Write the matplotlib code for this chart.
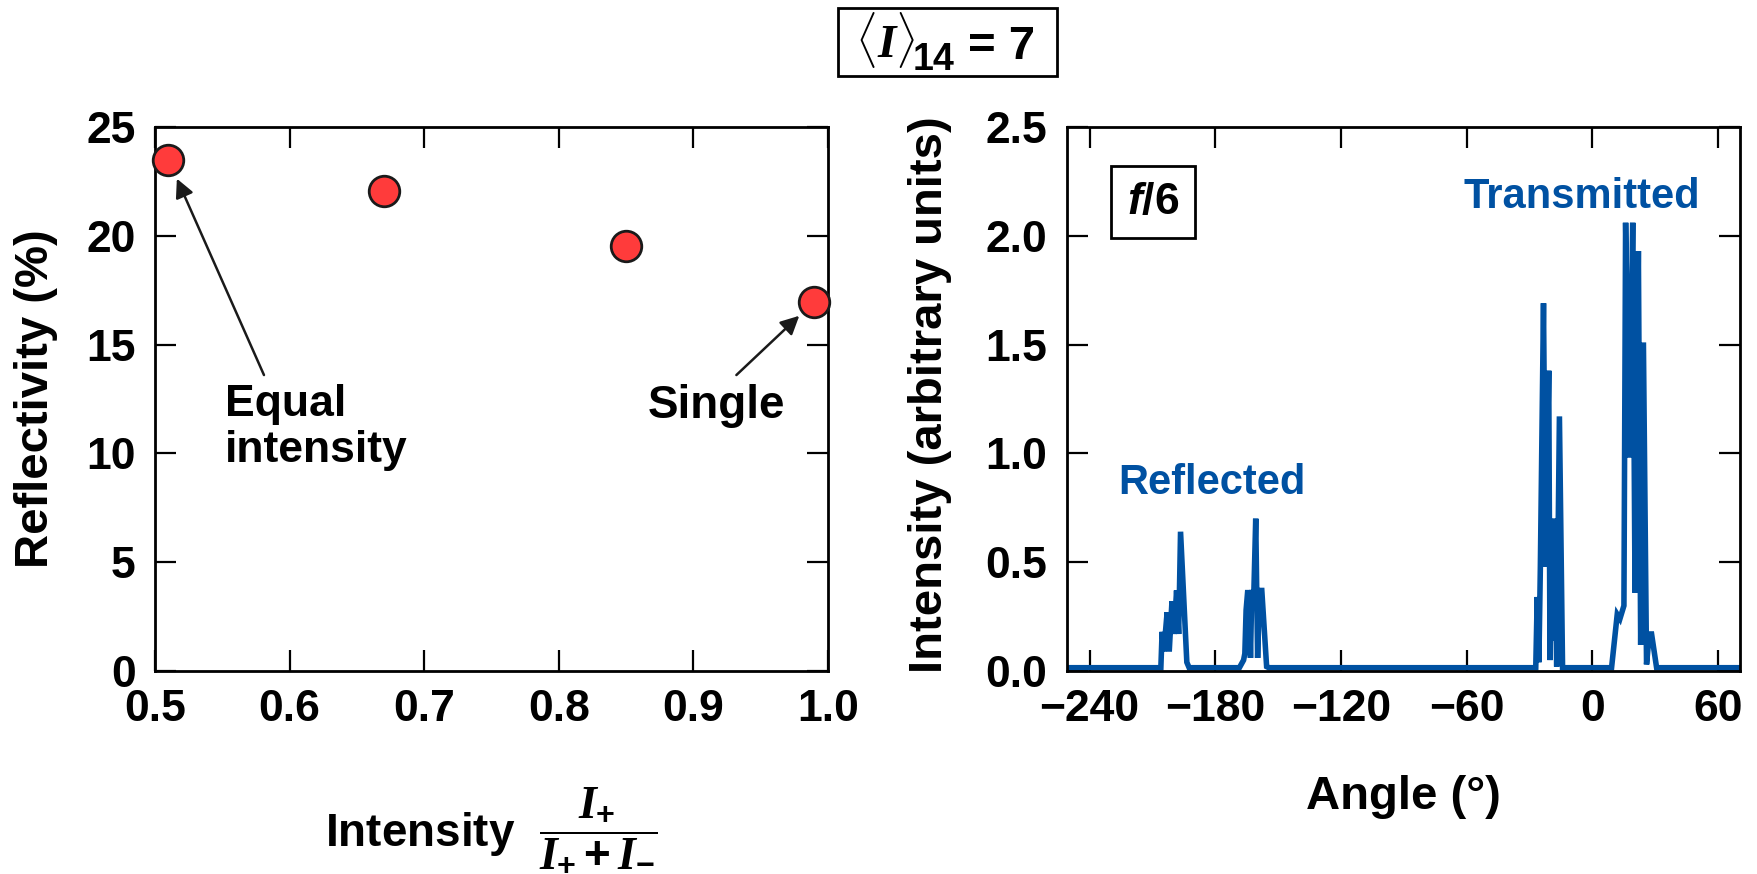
import matplotlib
matplotlib.use("Agg")
import matplotlib.pyplot as plt
from matplotlib.patches import Rectangle

plt.rcParams["font.family"] = ["Liberation Sans", "DejaVu Sans"]
plt.rcParams["font.weight"] = "bold"
plt.rcParams["mathtext.fontset"] = "custom"
plt.rcParams["mathtext.rm"] = "Liberation Sans:bold"
plt.rcParams["mathtext.bf"] = "Liberation Sans:bold"
plt.rcParams["mathtext.it"] = "Liberation Serif:bold:italic"
plt.rcParams["mathtext.sf"] = "Liberation Sans:bold:italic"

# left panel: reflectivity vs intensity ratio
ratio = [0.510, 0.670, 0.850, 0.990]
reflectivity = [23.5, 22.05, 19.55, 16.98]

# right panel: angular spectrum (f/6)
angle = [-252.0, -206.0, -205.4, -204.6, -203.0, -202.0, -200.7, -199.7,
         -198.5, -197.5, -196.6, -193.6, -192.5,
         -168.5, -166.5, -165.9, -165.3, -164.6, -163.8, -163.2, -162.6,
         -161.6, -160.7, -159.8, -158.9, -157.8, -155.5, -154.5,
         -27.0, -26.3, -25.5, -24.8, -23.3, -22.3, -20.8, -20.2, -19.4,
         -18.6, -18.1, -17.0, -15.7, -14.2,
         9.2, 11.9, 13.2, 15.1, 15.9, 17.7, 19.3, 20.4, 22.0, 23.1, 24.4,
         25.9, 27.2, 28.3, 30.7, 72.0]
intensity = [0.015, 0.015, 0.18, 0.09, 0.27, 0.09, 0.32, 0.17,
             0.37, 0.17, 0.64, 0.04, 0.015,
             0.015, 0.05, 0.08, 0.28, 0.36, 0.36, 0.06, 0.36,
             0.36, 0.70, 0.06, 0.37, 0.37, 0.02, 0.015,
             0.015, 0.34, 0.04, 0.48, 1.69, 0.48, 1.38, 0.05, 0.55,
             0.14, 0.70, 0.02, 1.17, 0.015,
             0.015, 0.26, 0.24, 0.30, 2.06, 0.98, 2.06, 0.36, 1.93, 0.12, 1.51,
             0.03, 0.17, 0.17, 0.015, 0.015]

blue = "#0051a2"

fig = plt.figure(figsize=(17.57, 8.74), dpi=100)
ax1 = fig.add_axes([0.0882, 0.2323, 0.383, 0.6224])
ax2 = fig.add_axes([0.6073, 0.2323, 0.383, 0.6224])

for ax in (ax1, ax2):
    for s in ax.spines.values():
        s.set_linewidth(2.0)
    ax.tick_params(direction="in", length=15, width=1.6, top=True, right=True,
                   labelsize=32)
    ax.tick_params(axis="x", pad=13)
    ax.tick_params(axis="y", pad=14)

# left panel
ax1.plot(ratio, reflectivity, "o", ms=22, mfc="#ff3b3b", mec="#1a1a1a",
         mew=2.0, clip_on=False, zorder=5)
ax1.set_xlim(0.5, 1.0)
ax1.set_ylim(0, 25)
ax1.set_xticks([0.5, 0.6, 0.7, 0.8, 0.9, 1.0])
ax1.set_yticks([0, 5, 10, 15, 20, 25])
ax1.set_ylabel("Reflectivity (%)", fontsize=34, fontweight="bold")
ax1.yaxis.set_label_coords(-0.177, 0.5)
ax1.yaxis.label.set_va("center")
ax1.set_xlabel(r"Intensity  $\dfrac{I_{+}}{I_{+}+I_{-}}$", fontsize=33,
               fontweight="bold")
ax1.xaxis.set_label_coords(0.5, -0.292)
ax1.xaxis.label.set_va("center")

arrow = dict(arrowstyle="-|>", color="#1a1a1a", lw=1.8, mutation_scale=28,
             shrinkA=0, shrinkB=15)
ax1.annotate("", xy=(ratio[0], reflectivity[0]), xytext=(0.581, 13.6),
             arrowprops=arrow)
ax1.annotate("", xy=(ratio[3], reflectivity[3]), xytext=(0.932, 13.6),
             arrowprops=arrow)
ax1.text(0.552, 13.2, "Equal\nintensity", fontsize=32, va="top", ha="left",
         linespacing=1.15)
ax1.text(0.866, 13.2, "Single", fontsize=33, va="top", ha="left")

# right panel
ax2.plot(angle, intensity, color=blue, lw=4.0, solid_joinstyle="miter")
ax2.set_xlim(-250.8, 70.5)
ax2.set_ylim(0, 2.5)
ax2.set_xticks([-240, -180, -120, -60, 0, 60])
ax2.set_yticks([0.0, 0.5, 1.0, 1.5, 2.0, 2.5])
ax2.set_yticklabels(["0.0", "0.5", "1.0", "1.5", "2.0", "2.5"])
ax2.set_xlabel("Angle (°)", fontsize=34, fontweight="bold")
ax2.xaxis.set_label_coords(0.5, -0.232)
ax2.xaxis.label.set_va("center")
ax2.set_ylabel("Intensity (arbitrary units)", fontsize=34, fontweight="bold")
ax2.yaxis.set_label_coords(-0.2036, 0.508)
ax2.yaxis.label.set_va("center")
ax2.text(0.765, 0.871, "Transmitted", transform=ax2.transAxes, color=blue,
         fontsize=30, ha="center", va="center")
ax2.text(0.216, 0.346, "Reflected", transform=ax2.transAxes, color=blue,
         fontsize=30, ha="center", va="center")
ax2.text(0.128, 0.862, r"$\mathsf{f}$/6", transform=ax2.transAxes,
         fontsize=32, ha="center", va="center",
         bbox=dict(boxstyle="square,pad=0.35", fc="white", ec="black", lw=2))

# boxed heading <I>_14 = 7
fig.add_artist(Rectangle((0.477, 0.913), 0.1246, 0.0778,
                         transform=fig.transFigure, fill=False, lw=2,
                         ec="black"))
fig.text(0.4866, 0.9336, r"$\langle I\rangle$", fontsize=34, ha="left",
         va="baseline")
fig.text(0.5196, 0.920, "14", fontsize=27, ha="left", va="baseline")
fig.text(0.5509, 0.9325, "= 7", fontsize=34, ha="left", va="baseline")

fig.savefig("out.png", dpi=100)
